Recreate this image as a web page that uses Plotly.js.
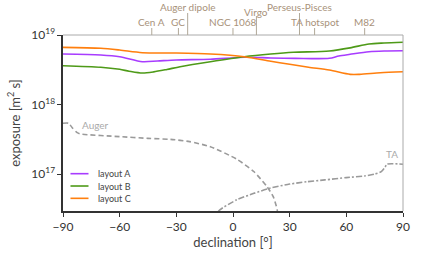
<!DOCTYPE html>
<html>
<head>
<meta charset="utf-8">
<script src="https://cdn.plot.ly/plotly-3.0.1.min.js"></script>
<style>html,body{margin:0;padding:0;background:#fff;}#chart{width:424px;height:262px;}</style>
</head>
<body>
<div id="chart"></div>
<script>
// ---- data (declination in degrees, exposure in m^2 s) ----
const decA = [-90, -70, -60, -48, -40, -30, -12, 6, 20, 33, 51, 56, 62, 72, 80, 90];
const expA = [5.33e18, 5.16e18, 4.88e18, 4.13e18, 4.23e18, 4.38e18, 4.48e18, 4.79e18, 4.68e18, 4.62e18, 4.62e18, 4.99e18, 5.28e18, 5.75e18, 5.89e18, 5.94e18];

const decB = [-90, -70, -60, -55, -48, -42, -35, -28, -12, 6, 20, 32, 51, 62, 72, 80, 90];
const expB = [3.62e18, 3.44e18, 3.21e18, 3.02e18, 2.84e18, 2.95e18, 3.2e18, 3.5e18, 4.13e18, 4.88e18, 5.33e18, 5.64e18, 5.89e18, 6.53e18, 7.43e18, 7.67e18, 7.85e18];

const decC = [-90, -70, -60, -48, -30, -12, 6, 20, 30, 40, 51, 62, 67, 78, 90];
const expC = [6.65e18, 6.44e18, 6.08e18, 5.57e18, 5.51e18, 5.33e18, 4.88e18, 4.19e18, 3.79e18, 3.44e18, 3.14e18, 2.72e18, 2.72e18, 2.87e18, 2.97e18];

const decAuger = [-90, -87, -85, -82.5, -80.8, -60, -45, -33, -23, -12, 2, 11, 18, 21.3, 23.4, 24.5, 24.8];
const expAuger = [5.38e17, 5.38e17, 4.6e17, 3.95e17, 3.78e17, 3.46e17, 3.27e17, 3.16e17, 2.93e17, 2.48e17, 1.64e17, 1.09e17, 6.6e16, 4.75e16, 3.06e16, 1.0e16, 3.2e15];

const decTA = [-10, -7.6, 2, 10.7, 19.5, 30, 39, 48.6, 60, 69.7, 75, 78.5, 80.5, 81.5, 90];
const expTA = [2.0e16, 2.95e16, 4.27e16, 5.25e16, 6.27e16, 7.2e16, 7.76e16, 8.26e16, 8.91e16, 9.42e16, 1.0e17, 1.09e17, 1.26e17, 1.39e17, 1.39e17];

const layoutNames = ["layout A", "layout B", "layout C"];
const layoutColors = ["#a83cff", "#4e9a18", "#ff7f0e"];

const sourceNames = ["Cen A", "GC", "Auger dipole", "NGC 1068", "Virgo", "Perseus-Pisces", "TA hotspot", "M82"];
const sourceDecs = [-43.0, -28.9, -24.0, -0.01, 12.4, 35.2, 43.2, 69.7];
const sourceRow = [0, 0, 2, 0, 1, 2, 0, 0]; // stagger level

const xTicks = [-90, -60, -30, 0, 30, 60, 90];
const yTicks = [1e17, 1e18, 1e19];
const yTickText = ["10<sup>17</sup>", "10<sup>18</sup>", "10<sup>19</sup>"];

// ---- build ----
const FONT = "Lato, 'Liberation Sans', sans-serif";
const traces = [
  {x: decA, y: expA, name: layoutNames[0], mode: "lines", line: {color: layoutColors[0], width: 1.6, shape: "spline", smoothing: 0.8}},
  {x: decB, y: expB, name: layoutNames[1], mode: "lines", line: {color: layoutColors[1], width: 1.6, shape: "spline", smoothing: 0.8}},
  {x: decC, y: expC, name: layoutNames[2], mode: "lines", line: {color: layoutColors[2], width: 1.6, shape: "spline", smoothing: 0.8}},
  {x: decAuger, y: expAuger, name: "Auger", mode: "lines", line: {color: "#9a9a9a", width: 1.6, dash: "5px,3px", shape: "spline", smoothing: 0.6}},
  {x: decTA, y: expTA, name: "TA", mode: "lines", line: {color: "#9a9a9a", width: 1.6, dash: "6px,2px,2px,2px", shape: "spline", smoothing: 0.6}}
];

const shapes = [];
const annotations = [];
// top & right frame lines (light)
shapes.push({type: "line", xref: "paper", yref: "paper", x0: 0, x1: 1, y0: 1, y1: 1, line: {color: "#aaaaaa", width: 1}});
shapes.push({type: "line", xref: "paper", yref: "paper", x0: 1, x1: 1, y0: 0, y1: 1, line: {color: "#aaaaaa", width: 1}});

const rowTick = [7 / 176, 19 / 176, 22 / 176];
const rowLabel = [1.0756, 1.132, 1.158];
sourceNames.forEach((n, i) => {
  const r = sourceRow[i];
  shapes.push({type: "line", xref: "x", yref: "paper", x0: sourceDecs[i], x1: sourceDecs[i], y0: 1, y1: 1 + rowTick[r], line: {color: "#b0a898", width: 1}});
  annotations.push({text: n, xref: "x", yref: "paper", x: sourceDecs[i], y: rowLabel[r], xanchor: "center", yanchor: "middle", showarrow: false, font: {family: FONT, size: 10, color: "#a8927a"}});
});

// series labels
annotations.push({text: "Auger", xref: "x", yref: "y", x: -81, y: Math.log10(5.1e17), xanchor: "left", yanchor: "middle", showarrow: false, font: {family: FONT, size: 10, color: "#aaaaaa"}});
annotations.push({text: "TA", xref: "x", yref: "y", x: 84, y: Math.log10(1.97e17), xanchor: "center", yanchor: "middle", showarrow: false, font: {family: FONT, size: 10, color: "#aaaaaa"}});

// manual legend
const legY = [0.212, 0.142, 0.072];
layoutNames.forEach((n, i) => {
  shapes.push({type: "line", xref: "paper", yref: "paper", x0: 0.022, x1: 0.075, y0: legY[i], y1: legY[i], line: {color: layoutColors[i], width: 1.6}});
  annotations.push({text: n, xref: "paper", yref: "paper", x: 0.098, y: legY[i], xanchor: "left", yanchor: "middle", showarrow: false, font: {family: FONT, size: 9, color: "#444"}});
});

const layout = {
  width: 424, height: 262,
  margin: {l: 62.5, r: 20.5, t: 35, b: 51},
  paper_bgcolor: "#fff", plot_bgcolor: "#fff",
  showlegend: false,
  font: {family: FONT, color: "#333"},
  xaxis: {
    range: [-90, 90], tickvals: xTicks, showgrid: false, zeroline: false,
    showline: true, linecolor: "#333", linewidth: 1.6,
    ticks: "outside", ticklen: 4, tickwidth: 1, tickcolor: "#333",
    tickfont: {family: FONT, size: 12, color: "#333"},
    title: {text: "declination [°]", font: {family: FONT, size: 13, color: "#444"}, standoff: 3}
  },
  yaxis: {
    type: "log", range: [16.47, 19.0], tickvals: yTicks, ticktext: yTickText,
    showgrid: false, zeroline: false,
    showline: true, linecolor: "#333", linewidth: 1.6,
    ticks: "outside", ticklen: 4, tickwidth: 1, tickcolor: "#333",
    tickfont: {family: FONT, size: 12, color: "#333"},
    title: {text: "exposure [m<sup>2</sup> s]", font: {family: FONT, size: 13, color: "#444"}, standoff: 8}
  },
  shapes: shapes,
  annotations: annotations
};

Plotly.newPlot("chart", traces, layout, {staticPlot: true, displayModeBar: false});
</script>
</body>
</html>
